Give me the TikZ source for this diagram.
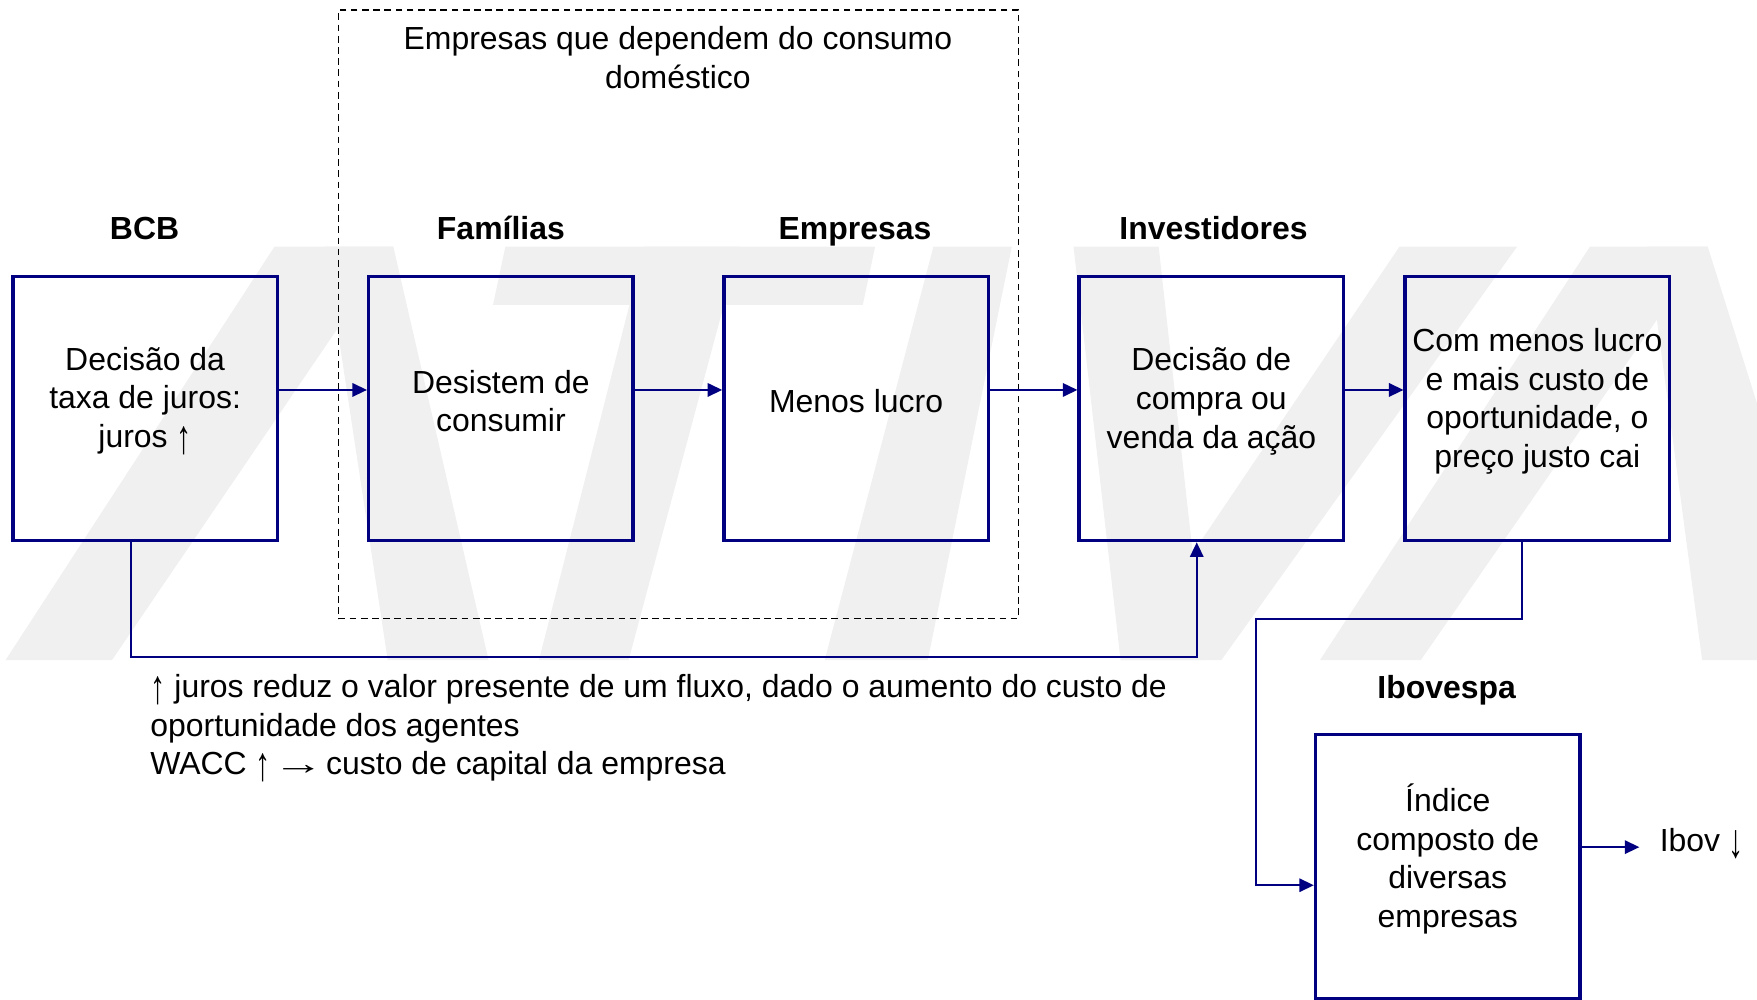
\documentclass[tikz,border=0pt]{standalone}
\usepackage{fontspec}
\usepackage{graphicx}
\setmainfont{Liberation Sans}
\usetikzlibrary{arrows.meta}
\definecolor{navy}{RGB}{0,0,128}
\definecolor{wm}{RGB}{240,240,240}
\newcommand{\myup}{\raisebox{-0.19em}{\scalebox{0.95}[1.5]{↑}}}
\newcommand{\mydown}{\raisebox{-0.19em}{\scalebox{0.95}[1.5]{↓}}}
\newcommand{\myright}{\kern-6pt\scalebox{1.6}[1]{→}\kern-6pt}
\begin{document}
\begin{tikzpicture}[x=1pt,y=-1pt,
  box/.style={draw=navy, line width=3pt, minimum width=236pt, minimum height=236pt, inner sep=0pt},
  txt/.style={font=\fontsize{28.5}{34.5}\selectfont, align=center, inner sep=0pt},
  head/.style={font=\fontsize{28.5}{34.5}\selectfont\bfseries, inner sep=0pt, anchor=base},
  conn/.style={draw=navy, line width=1.7pt},
  arr/.style={conn, -{Triangle[length=13pt,width=12pt]}},
  grpbox/.style={draw=black, line width=1.5pt, dash pattern=on 6pt off 4pt, inner sep=0pt},
  wmark/.style={fill=wm, draw=none}
]
\useasboundingbox (0,0) rectangle (1568,892.4);
% watermark
\begin{scope}
\clip (0,0) rectangle (1568,892.4);
\fill[wmark] (5,589) -- (100,589) -- (351,220) -- (245,220) -- cycle;
\fill[wmark] (290,220) -- (351,220) -- (436,589) -- (346,589) -- cycle;
\fill[wmark] (451,220) -- (781,220) -- (770,272) -- (440,272) -- cycle;
\fill[wmark] (481,589) -- (561,589) -- (660,220) -- (575,220) -- cycle;
\fill[wmark] (736,589) -- (828,589) -- (903,220) -- (833,220) -- cycle;
\fill[wmark] (958,220) -- (1034,220) -- (1075,589) -- (1000,589) -- cycle;
\fill[wmark] (1249,220) -- (1354,220) -- (1090,589) -- (1000,589) -- cycle;
\fill[wmark] (1178,589) -- (1268,589) -- (1524,220) -- (1419,220) -- cycle;
\fill[wmark] (1470,220) -- (1524,220) -- (1640,589) -- (1519,589) -- cycle;
\end{scope}

% dashed group
\node[grpbox, minimum width=607pt, minimum height=543pt] (grp) at (605.5,280.5) {};
\node[txt] (grplbl) at (605,51.5) {Empresas que dependem do consumo\\doméstico};

% headers
\node[head] (hbcb) at (129,213.5) {BCB};
\node[head] (hfam) at (447,213.5) {Famílias};
\node[head] (hemp) at (763,213.5) {Empresas};
\node[head] (hinv) at (1083,213.5) {Investidores};
\node[head] (hibv) at (1291,623) {Ibovespa};

% boxes
\node[box] (bcb) at (129.5,364.5) {};
\node[box] (fam) at (447,364.5) {};
\node[box] (emp) at (764,364.5) {};
\node[box] (inv) at (1081,364.5) {};
\node[box] (com) at (1372,364.5) {};
\node[box] (ibv) at (1292,773.5) {};

% box texts
\node[txt] (tbcb) at (129.5,358) {Decisão da\\taxa de juros:\\juros \myup};
\node[txt] (tfam) at (447,358) {Desistem de\\consumir};
\node[txt] (temp) at (764,358) {Menos lucro};
\node[txt] (tinv) at (1081,358) {Decisão de\\compra ou\\venda da ação};
\node[txt] (tcom) at (1372,358) {Com menos lucro\\e mais custo de\\oportunidade, o\\preço justo cai};
\node[txt] (tibv) at (1292,766.5) {Índice\\composto de\\diversas\\empresas};

% connectors
\coordinate (ya) at (0,348);
\draw[arr] (bcb.east |- ya) -- (fam.west |- ya);
\draw[arr] (fam.east |- ya) -- (emp.west |- ya);
\draw[arr] (emp.east |- ya) -- (inv.west |- ya);
\draw[arr] (inv.east |- ya) -- (com.west |- ya);

\coordinate (f1) at (117,586);
\coordinate (f2) at (1068,586);
\draw[arr] (bcb.south -| f1) -- (f1) -- (f2) -- (inv.south -| f2);

\coordinate (g1) at (1358,552);
\coordinate (g2) at (1121,552);
\coordinate (g3) at (1121,790);
\draw[arr] (com.south -| g1) -- (g1) -- (g2) -- (g3) -- (ibv.west |- g3);

\coordinate (h1) at (1463,756);
\draw[arr] (ibv.east |- h1) -- (h1);
\node[txt, anchor=base west] (ibovlbl) at (1481,760) {Ibov \mydown};

% note
\node[txt, align=left, anchor=west] (note) at (134,650) {\myup{} juros reduz o valor presente de um fluxo, dado o aumento do custo de\\oportunidade dos agentes\\WACC \myup{} \myright{} custo de capital da empresa};
\end{tikzpicture}
\end{document}
